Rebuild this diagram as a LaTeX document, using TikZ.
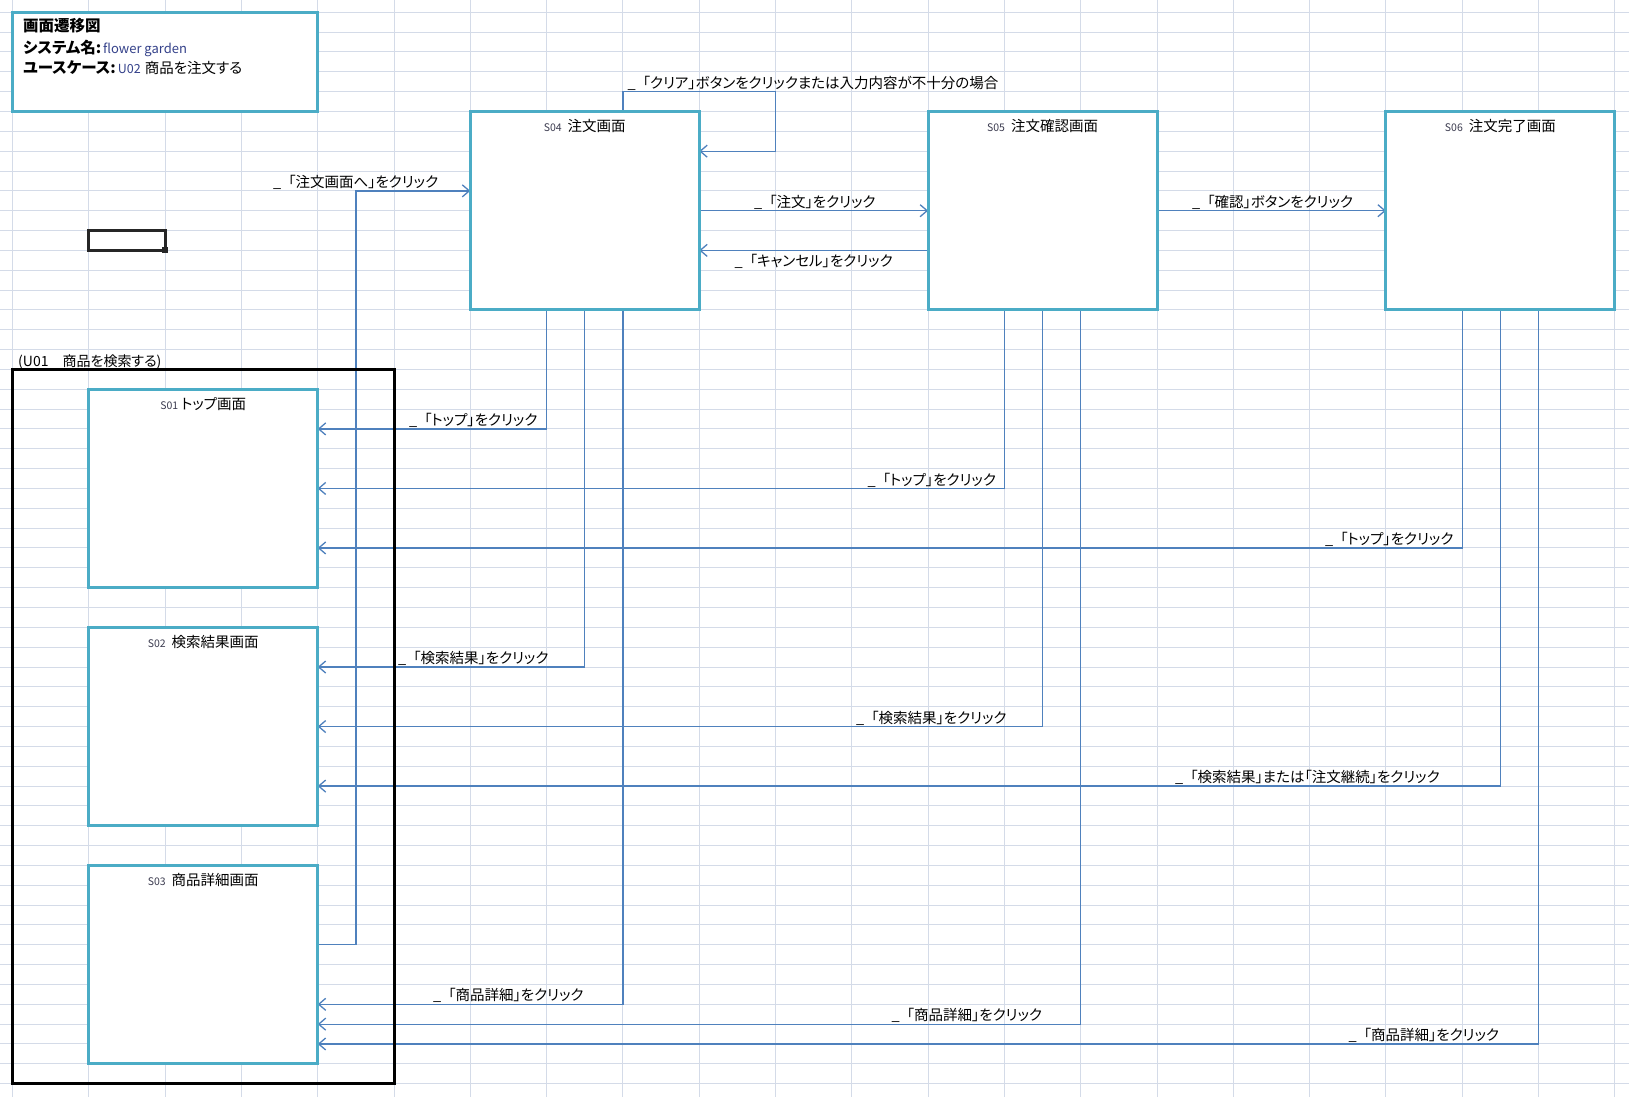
\documentclass[tikz,border=0pt]{standalone}
\usepackage{fontspec}
\setmainfont[RawFeature=+palt]{Noto Sans CJK JP}
\usetikzlibrary{arrows.meta,calc}
\definecolor{gridc}{HTML}{D4DBE8}
\definecolor{boxc}{HTML}{4BACC6}
\definecolor{connc}{HTML}{4F81BD}
\definecolor{smallc}{HTML}{34418A}
\definecolor{numc}{HTML}{3C3C50}
\newcommand{\lead}{\_\hspace{7pt}}
\begin{document}
\begin{tikzpicture}[x=1pt,y=-1pt,
  scr/.style={draw=boxc, line width=3pt, fill=white, minimum width=228.9pt, minimum height=198.4pt, inner sep=0pt, outer sep=0pt},
  ttl/.style={anchor=base, inner sep=0pt, font=\fontsize{14.5}{16}\selectfont},
  conn/.style={draw=connc, line width=1.3pt},
  arr/.style={conn, -{Straight Barb[length=7pt,width=12pt,line width=1.3pt]}},
  lbl/.style={anchor=base west, inner sep=0pt, font=\fontsize{14.5}{16}\selectfont},
  gline/.style={draw=gridc, line width=1pt}]
\useasboundingbox (0,0) rectangle (1629,1097);
\fill[white] (0,0) rectangle (1629,1097);
% spreadsheet grid
\foreach \k in {0,...,21} \draw[gline] ({12.5+76.3*\k},0) -- ({12.5+76.3*\k},1097);
\foreach \j in {0,...,54} \draw[gline] (0,{12.3+19.84*\j}) -- (1629,{12.3+19.84*\j});

% title box
\node[draw=boxc, line width=3pt, fill=white, minimum width=305.2pt, minimum height=99.2pt, inner sep=0pt, outer sep=0pt] (title) at (165.1,61.9) {};
\node[anchor=base west, inner sep=0pt, font=\bfseries\fontsize{15.5}{17}\selectfont] (t1) at (23,32) {画面遷移図};
\node[anchor=base west, inner sep=0pt, font=\fontsize{15.5}{17}\selectfont] (t2) at (23,54) {\textbf{システム名:}\hspace{2pt}{\fontsize{13}{14}\selectfont\color{smallc}flower garden}};
\node[anchor=base west, inner sep=0pt, font=\fontsize{15.5}{17}\selectfont] (t3) at (23,74) {\textbf{ユースケース:}\hspace{2pt}{\fontsize{12.5}{14}\selectfont\color{smallc}U02}\hspace{4pt}{\fontsize{14.5}{16}\selectfont 商品を注文する}};

% cell cursor
\node[draw=black!85, line width=3pt, minimum width=76.3pt, minimum height=19.84pt, inner sep=0pt, outer sep=0pt] (cur) at (126.95,240.46) {};
\node[fill=black!85, minimum size=6pt, inner sep=0pt] (curh) at (165.1,250.38) {};

% connector bend points
\coordinate (a1) at (355.85,944.78);
\coordinate (a2) at (355.85,190.86);
\coordinate (c1) at (622.9,91.66);
\coordinate (c2) at (775.5,91.66);
\coordinate (c3) at (775.5,151.18);
\coordinate (r10) at (0,210.7);
\coordinate (r12) at (0,250.38);
\coordinate (d41) at (546.6,428.94);
\coordinate (d42) at (584.75,667.02);
\coordinate (d43) at (622.9,1004.3);
\coordinate (d51) at (1004.4,488.46);
\coordinate (d52) at (1042.55,726.54);
\coordinate (d53) at (1080.7,1024.14);
\coordinate (d61) at (1462.2,547.98);
\coordinate (d62) at (1500.35,786.06);
\coordinate (d63) at (1538.5,1043.98);

% screens (placed first so anchors exist)
\path (584.75,210.7) node[scr] (s04) {};
\path (1042.55,210.7) node[scr] (s05) {};
\path (1500.35,210.7) node[scr] (s06) {};
\path (203.25,488.46) node[scr] (s01) {};
\path (203.25,726.54) node[scr] (s02) {};
\path (203.25,964.62) node[scr] (s03) {};

% connectors
\draw[arr] (s03.east |- a1) -- (a1) -- (a2) -- (s04.west |- a2);
\draw[arr] (s04.north -| c1) -- (c1) -- (c2) -- (c3) -- (s04.east |- c3);
\draw[arr] (s04.east |- r10) -- (s05.west |- r10);
\draw[arr] (s05.west |- r12) -- (s04.east |- r12);
\draw[arr] (s05.east |- r10) -- (s06.west |- r10);
\draw[arr] (s04.south -| d41) -- (d41) -- (s01.east |- d41);
\draw[arr] (s04.south -| d42) -- (d42) -- (s02.east |- d42);
\draw[arr] (s04.south -| d43) -- (d43) -- (s03.east |- d43);
\draw[arr] (s05.south -| d51) -- (d51) -- (s01.east |- d51);
\draw[arr] (s05.south -| d52) -- (d52) -- (s02.east |- d52);
\draw[arr] (s05.south -| d53) -- (d53) -- (s03.east |- d53);
\draw[arr] (s06.south -| d61) -- (d61) -- (s01.east |- d61);
\draw[arr] (s06.south -| d62) -- (d62) -- (s02.east |- d62);
\draw[arr] (s06.south -| d63) -- (d63) -- (s03.east |- d63);

% use-case group
\node[draw=black, line width=3pt, minimum width=381.5pt, minimum height=714.24pt, inner sep=0pt, outer sep=0pt] (grp) at (203.25,726.54) {};
\node[anchor=base west, inner sep=0pt, font=\fontsize{14}{16}\selectfont] (grpl) at (18,366) {(U01　商品を検索する)};

% redraw screens above group/connectors
\path (584.75,210.7) node[scr] {};
\path (1042.55,210.7) node[scr] {};
\path (1500.35,210.7) node[scr] {};
\path (203.25,488.46) node[scr] {};
\path (203.25,726.54) node[scr] {};
\path (203.25,964.62) node[scr] {};

% screen titles
\node[ttl] (s04t) at ($(s04.north)+(0,20)$) {{\fontsize{10.5}{12}\selectfont\color{numc}S04}\hspace{6pt}注文画面};
\node[ttl] (s05t) at ($(s05.north)+(0,20)$) {{\fontsize{10.5}{12}\selectfont\color{numc}S05}\hspace{6pt}注文確認画面};
\node[ttl] (s06t) at ($(s06.north)+(0,20)$) {{\fontsize{10.5}{12}\selectfont\color{numc}S06}\hspace{6pt}注文完了画面};
\node[ttl] (s01t) at ($(s01.north)+(0,20)$) {{\fontsize{10.5}{12}\selectfont\color{numc}S01}\hspace{3pt}トップ画面};
\node[ttl] (s02t) at ($(s02.north)+(0,20)$) {{\fontsize{10.5}{12}\selectfont\color{numc}S02}\hspace{6pt}検索結果画面};
\node[ttl] (s03t) at ($(s03.north)+(0,20)$) {{\fontsize{10.5}{12}\selectfont\color{numc}S03}\hspace{6pt}商品詳細画面};

% connector labels
\node[lbl] (l1) at (273,187.4) {\lead「注文画面へ」をクリック};
\node[lbl] (l2) at (627.5,88.2) {\lead「クリア」ボタンをクリックまたは入力内容が不十分の場合};
\node[lbl] (l3) at (754,207.2) {\lead「注文」をクリック};
\node[lbl] (l4) at (734.5,266.4) {\lead「キャンセル」をクリック};
\node[lbl] (l5) at (1192,207.2) {\lead「確認」ボタンをクリック};
\node[lbl] (l6) at (409,425.4) {\lead「トップ」をクリック};
\node[lbl] (l7) at (398,663.5) {\lead「検索結果」をクリック};
\node[lbl] (l8) at (433,1000.8) {\lead「商品詳細」をクリック};
\node[lbl] (l9) at (867.5,485) {\lead「トップ」をクリック};
\node[lbl] (l10) at (856,723) {\lead「検索結果」をクリック};
\node[lbl] (l11) at (891.5,1020.6) {\lead「商品詳細」をクリック};
\node[lbl] (l12) at (1325,544.5) {\lead「トップ」をクリック};
\node[lbl] (l13) at (1175,782.5) {\lead「検索結果」または「注文継続」をクリック};
\node[lbl] (l14) at (1348.5,1040.5) {\lead「商品詳細」をクリック};
\end{tikzpicture}
\end{document}
